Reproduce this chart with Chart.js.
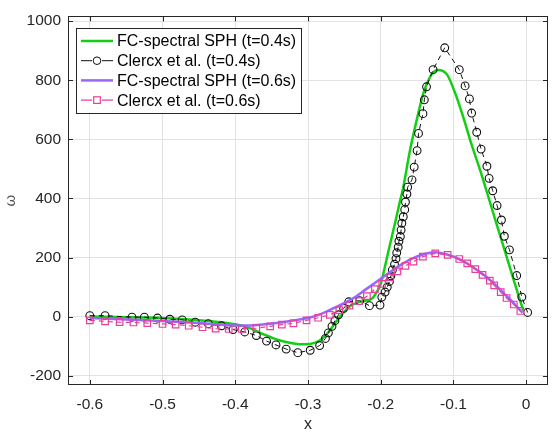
<!DOCTYPE html>
<html>
<head>
<meta charset="utf-8">
<script src="https://cdn.jsdelivr.net/npm/chart.js@4.4.1/dist/chart.umd.min.js"></script>
<style>
  html, body { margin: 0; padding: 0; background: #fff; }
  #wrap { width: 555px; height: 438px; }
</style>
</head>
<body>
<div id="wrap"><canvas id="c" width="555" height="438"></canvas></div>
<script>
// ---- data ----
const seriesLabels = [
  'FC-spectral SPH (t=0.4s)',
  'Clercx et al. (t=0.4s)',
  'FC-spectral SPH (t=0.6s)',
  'Clercx et al. (t=0.6s)'
];
const xTicks = [-0.6, -0.5, -0.4, -0.3, -0.2, -0.1, 0];
const yTicks = [-200, 0, 200, 400, 600, 800, 1000];

// FC-spectral SPH, t = 0.4 s
const green04X = [-0.60,-0.55,-0.50,-0.45,-0.42,-0.40,-0.38,-0.36,-0.34,-0.32,-0.305,-0.29,-0.28,-0.27,-0.26,-0.25,-0.24,-0.23,-0.22,-0.215,-0.21,-0.205,-0.20,-0.195,-0.19,-0.185,-0.18,-0.175,-0.169,-0.160,-0.150,-0.141,-0.130,-0.121,-0.109,-0.098,-0.086,-0.075,-0.063,-0.052,-0.043,-0.031,-0.020,-0.010,-0.004];
const green04Y = [0,-2,-5,-12,-19,-26,-39,-61,-80,-91,-94,-88,-74,-47,-13,17,39,49,54,57,66,85,110,160,215,268,320,375,438,560,671,759,820,835,820,759,671,582,493,405,332,236,147,67,21];

// Clercx et al., t = 0.4 s
const clercx04X = [-0.600,-0.579,-0.542,-0.525,-0.507,-0.490,-0.473,-0.455,-0.437,-0.419,-0.403,-0.387,-0.371,-0.357,-0.344,-0.330,-0.314,-0.297,-0.284,-0.276,-0.272,-0.267,-0.263,-0.258,-0.251,-0.244,-0.229,-0.2155,-0.201,-0.1985,-0.194,-0.191,-0.188,-0.186,-0.184,-0.181,-0.179,-0.178,-0.176,-0.175,-0.173,-0.172,-0.171,-0.169,-0.167,-0.166,-0.164,-0.163,-0.157,-0.154,-0.150,-0.148,-0.142,-0.140,-0.137,-0.128,-0.112,-0.092,-0.084,-0.078,-0.075,-0.068,-0.062,-0.054,-0.051,-0.046,-0.040,-0.034,-0.030,-0.023,-0.013,-0.006,0.002];
const clercx04Y = [3,3,-2,-2,-5,-9,-11,-19,-24,-31,-44,-52,-64,-83,-96,-110,-122,-114,-98,-74,-55,-33,-14,6,28,50,54,37,39,66,83,100,119,138,158,177,196,216,235,255,271,293,316,338,362,388,415,438,463,506,562,620,687,734,778,836,910,836,781,737,689,624,567,509,468,426,376,327,272,226,139,66,14];

// FC-spectral SPH, t = 0.6 s
const purple06X = [-0.60,-0.55,-0.50,-0.45,-0.42,-0.40,-0.38,-0.36,-0.34,-0.32,-0.30,-0.28,-0.26,-0.24,-0.22,-0.20,-0.18,-0.16,-0.14,-0.125,-0.11,-0.09,-0.07,-0.05,-0.03,-0.015,-0.005];
const purple06Y = [-5,-10,-15,-22,-27,-30,-30,-26,-21,-13,-5,11,34,59,93,128,163,193,212,218,211,192,162,125,77,40,13];

// Clercx et al., t = 0.6 s
const clercx06X = [-0.600,-0.579,-0.559,-0.540,-0.521,-0.500,-0.482,-0.464,-0.445,-0.427,-0.409,-0.391,-0.371,-0.352,-0.336,-0.320,-0.302,-0.286,-0.270,-0.257,-0.243,-0.230,-0.219,-0.208,-0.198,-0.187,-0.177,-0.166,-0.155,-0.142,-0.125,-0.108,-0.092,-0.081,-0.070,-0.060,-0.050,-0.044,-0.035,-0.027,-0.017,-0.008];
const clercx06Y = [-13,-16,-19,-20,-22,-25,-27,-31,-36,-41,-42,-42,-39,-33,-27,-23,-13,-4,6,22,37,52,69,93,111,133,153,172,186,203,214,209,195,180,161,141,122,106,83,63,41,19];

// ---- styles ----
const GREEN = '#11d011';
const BLACK = '#111111';
const PURPLE = '#9966ff';
const PINK = '#e8409a';
const AXIS = '#262626';
const FONT = '"Liberation Sans", Arial, Helvetica, sans-serif';

const pts = (xs, ys) => xs.map((x, i) => ({ x: x, y: ys[i] }));

const X_MIN = -0.63, X_MAX = 0.03, Y_MIN = -231.6, Y_MAX = 1016.6;

const boxAndLegend = {
  id: 'boxAndLegend',
  afterDatasetsDraw(chart) {
    const ctx = chart.ctx;
    const a = chart.chartArea;
    const xs = chart.scales.x, ys = chart.scales.y;
    ctx.save();
    ctx.strokeStyle = AXIS;
    ctx.lineWidth = 1;
    ctx.setLineDash([]);
    ctx.strokeRect(Math.round(a.left) + 0.5, Math.round(a.top) + 0.5,
                   Math.round(a.right - a.left) - 1, Math.round(a.bottom - a.top) - 1);
    // inward ticks on all sides
    const tl = 5;
    ctx.beginPath();
    xTicks.forEach(v => {
      const px = Math.round(xs.getPixelForValue(v)) + 0.5;
      ctx.moveTo(px, a.bottom); ctx.lineTo(px, a.bottom - tl);
      ctx.moveTo(px, a.top); ctx.lineTo(px, a.top + tl);
    });
    yTicks.forEach(v => {
      const py = Math.round(ys.getPixelForValue(v)) + 0.5;
      ctx.moveTo(a.left, py); ctx.lineTo(a.left + tl, py);
      ctx.moveTo(a.right, py); ctx.lineTo(a.right - tl, py);
    });
    ctx.stroke();

    // legend
    const lx = 76, ly = 28, lw = 225, lh = 85;
    ctx.fillStyle = '#ffffff';
    ctx.fillRect(lx, ly, lw, lh);
    ctx.strokeStyle = AXIS;
    ctx.strokeRect(lx + 0.5, ly + 0.5, lw, lh);
    const items = [
      { color: GREEN, width: 2.5, marker: null },
      { color: BLACK, width: 1, marker: 'circle' },
      { color: PURPLE, width: 2.5, marker: null },
      { color: PINK, width: 1.2, marker: 'rect' }
    ];
    ctx.font = '16px ' + FONT;
    ctx.textBaseline = 'middle';
    ctx.textAlign = 'left';
    items.forEach((it, i) => {
      const y = ly + 13 + i * 19.7;
      ctx.strokeStyle = it.color;
      ctx.lineWidth = it.width;
      ctx.beginPath();
      if (it.marker) {
        ctx.moveTo(81, y); ctx.lineTo(92, y);
        ctx.moveTo(102, y); ctx.lineTo(113, y);
      } else {
        ctx.moveTo(81, y); ctx.lineTo(113, y);
      }
      ctx.stroke();
      if (it.marker === 'circle') {
        ctx.beginPath(); ctx.arc(97, y, 3.8, 0, Math.PI * 2); ctx.stroke();
      } else if (it.marker === 'rect') {
        ctx.strokeRect(93.7, y - 3.3, 6.6, 6.6);
      }
      ctx.fillStyle = '#000000';
      ctx.fillText(seriesLabels[i], 117, y + 1);
    });
    ctx.restore();
  }
};

new Chart(document.getElementById('c'), {
  type: 'line',
  data: {
    datasets: [
      { label: seriesLabels[0], data: pts(green04X, green04Y), borderColor: GREEN, borderWidth: 2.5,
        pointRadius: 0, cubicInterpolationMode: 'monotone', order: 4 },
      { label: seriesLabels[1], data: pts(clercx04X, clercx04Y), borderColor: BLACK, borderWidth: 1,
        borderDash: [5, 4], pointRadius: 3.9, pointStyle: 'circle', pointBorderColor: BLACK,
        pointBackgroundColor: 'rgba(0,0,0,0)', pointBorderWidth: 1.1, tension: 0, order: 3 },
      { label: seriesLabels[2], data: pts(purple06X, purple06Y), borderColor: PURPLE, borderWidth: 2.5,
        pointRadius: 0, cubicInterpolationMode: 'monotone', order: 2 },
      { label: seriesLabels[3], data: pts(clercx06X, clercx06Y), borderColor: PINK, borderWidth: 1.2,
        borderDash: [5, 4], pointRadius: 4.6, pointStyle: 'rect', pointBorderColor: PINK,
        pointBackgroundColor: 'rgba(0,0,0,0)', pointBorderWidth: 1.2, tension: 0, order: 1 }
    ]
  },
  options: {
    responsive: false,
    devicePixelRatio: 1,
    animation: false,
    layout: { padding: { top: 9, right: 7, left: 0, bottom: 0 } },
    plugins: { legend: { display: false }, tooltip: { enabled: false } },
    scales: {
      x: {
        type: 'linear', min: X_MIN, max: X_MAX,
        afterBuildTicks: (s) => { s.ticks = xTicks.map(v => ({ value: v })); },
        afterFit: (s) => { s.height = 53; },
        grid: { color: '#e2e2e2', lineWidth: 1, drawTicks: false },
        border: { display: false },
        ticks: { color: AXIS, padding: 10, maxRotation: 0, font: { family: FONT, size: 15.5 },
                 callback: (v) => String(v) },
        title: { display: true, text: 'x', color: AXIS, font: { family: FONT, size: 16 },
                 padding: { top: 0, bottom: 4 } }
      },
      y: {
        type: 'linear', min: Y_MIN, max: Y_MAX,
        afterBuildTicks: (s) => { s.ticks = yTicks.map(v => ({ value: v })); },
        afterFit: (s) => { s.width = 68; },
        grid: { color: '#e2e2e2', lineWidth: 1, drawTicks: false },
        border: { display: false },
        ticks: { color: AXIS, padding: 7, font: { family: FONT, size: 15.5 },
                 callback: (v) => String(v) },
        title: { display: true, text: 'ω', color: '#555555', font: { family: FONT, size: 15 },
                 padding: { top: 2, bottom: 0 } }
      }
    }
  },
  plugins: [boxAndLegend]
});
</script>
</body>
</html>
